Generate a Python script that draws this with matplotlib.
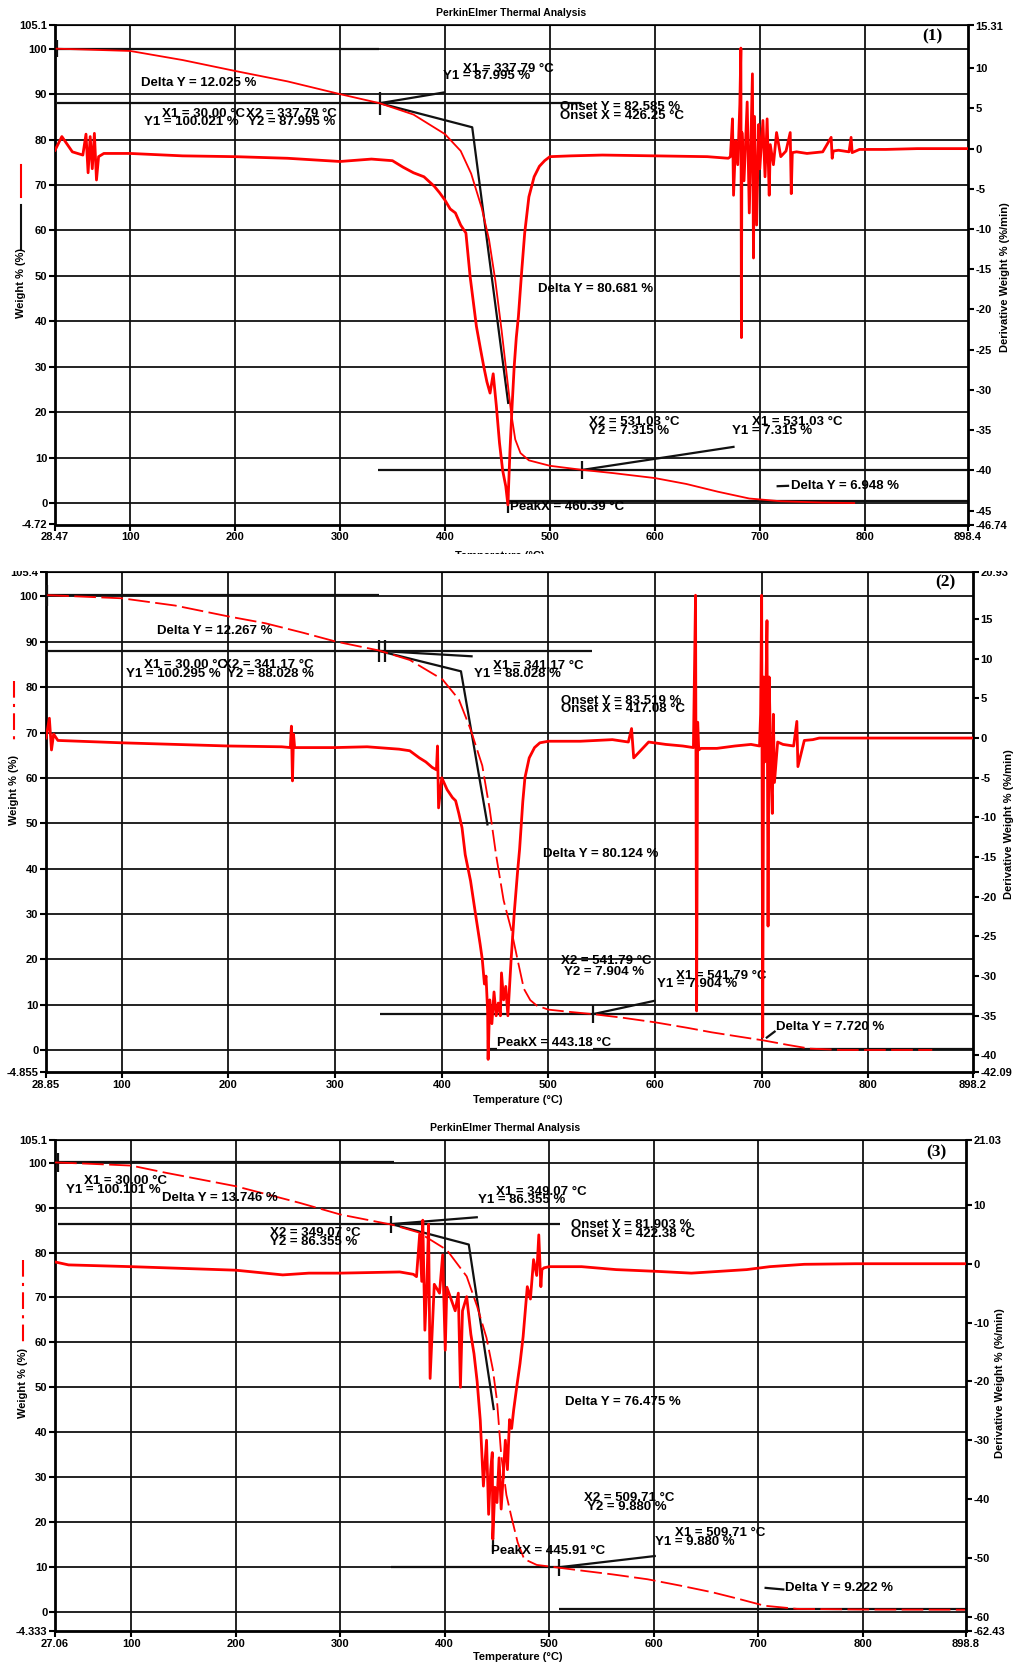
import matplotlib
matplotlib.use("Agg")
import matplotlib.pyplot as plt
from matplotlib.lines import Line2D
from matplotlib.patches import Rectangle

plt.rcParams["font.family"] = ["Liberation Sans", "DejaVu Sans"]
plt.rcParams["font.weight"] = "bold"

W_PX, H_PX = 1015, 1668
RED = "#ff0000"
INK = "#111111"

# ---------------- panel (1) ----------------
T_TGA1 = [30, 100, 150, 200, 250, 300, 337.8, 370, 400, 415, 425, 435, 442, 448, 454,
          459, 463, 467, 472, 480, 500, 531, 560, 600, 630, 660, 690, 720, 760, 790]
W_TGA1 = [100, 99.5, 97.5, 95.1, 92.8, 90, 88, 85.5, 81.2, 77.5, 72.5, 65, 58, 49, 38,
          28, 20, 14, 11, 9.4, 8.2, 7.3, 6.6, 5.5, 4.2, 2.5, 1.0, 0.4, 0.1, 0.0]
T_DTG1 = [28.5, 35, 45, 55, 58, 60, 62, 64, 66, 68, 70, 75, 100, 150, 200, 250, 300, 330,
          350, 360, 370, 380, 390, 395, 400, 405, 410, 415, 420, 424, 430, 434, 437, 440,
          443, 446, 449, 452, 455, 458, 460, 462, 464, 466, 468, 470, 473, 476, 480, 485,
          490, 495, 500, 520, 550, 600, 650, 670,
          672, 674, 675, 677, 679, 681, 682, 682.5, 683, 685, 688, 690, 693, 694, 695, 697,
          699, 700, 703, 705, 707, 709, 710, 713, 716, 720, 725, 729, 730, 731, 735, 745,
          760, 768, 769, 770, 775, 785, 787, 788, 795, 820, 850, 898]
D_DTG1 = [-0.2, 1.5, -0.4, -0.8, 1.8, -3.0, 1.5, -2.5, 1.9, -3.9, -1.0, -0.6, -0.6, -0.9,
          -1.0, -1.2, -1.6, -1.3, -1.5, -2.3, -3.0, -3.5, -4.7, -5.5, -6.4, -7.5, -8.0, -9.5,
          -10.5, -15.9, -22.1, -25, -27.1, -29, -30.4, -28, -32, -36.6, -40, -42, -44.3,
          -37.5, -32, -27.1, -23.5, -20.9, -15.5, -10.5, -6, -3.5, -2.2, -1.5, -1.0, -0.9,
          -0.8, -0.9, -1.0, -1.2,
          -1.0, 3.7, -5.8, 1.0, -2.0, 5.5, 12.5, -23.5, 2.0, -4.0, 5.8, -8.0, 9.3, -13.6,
          4.0, -9.5, 3.0, -2.5, 3.5, -3.5, 3.7, -5.8, 0.5, -2.0, 2.0, -1.0, -0.3, 2.0, -5.6,
          -0.5, -0.4, -0.6, -0.4, 1.4, -1.2, -0.3, -0.2, -0.4, 1.4, -0.5, -0.1, -0.1, 0, 0]

# ---------------- panel (2) ----------------
T_TGA2 = [30, 100, 150, 200, 234.5, 270, 300, 341, 370, 400.7, 416, 427, 438, 445, 451,
          458, 465, 471, 477, 483, 489, 500, 520, 542, 570, 600, 630, 653, 680, 702, 725,
          745, 775, 820, 860]
W_TGA2 = [100.3, 99.6, 98, 95.6, 94.1, 92, 90.1, 88.1, 86, 81.7, 77.3, 70.7, 62.7, 53,
          42.9, 33, 26.7, 20, 13.5, 11, 9.8, 8.9, 8.4, 7.9, 7.1, 6.1, 4.9, 3.9, 2.9, 2.1,
          1.1, 0.3, 0.0, 0.0, 0.0]
T_DTG2 = [28.9, 32, 34, 36, 40, 60, 100, 150, 200, 250, 258, 259, 260, 261, 262, 270, 300,
          330, 360, 370, 379, 385, 391, 395, 396, 397, 400, 405, 410, 413, 416, 419, 422,
          427, 432, 436, 438, 440, 441.5, 443, 443.5, 445, 447, 449, 451, 453, 455, 456,
          458, 460, 462, 465, 468, 471, 473, 476, 478, 482, 487, 492, 500, 530, 560, 575,
          578, 580, 594, 610, 626, 636, 638, 639, 640, 641, 643, 650, 658, 675, 690, 698,
          699, 700, 701, 702, 703, 705, 706, 707, 709, 710, 711, 712, 715, 720, 730, 733,
          734, 740, 748, 754, 800, 850, 898]
D_DTG2 = [0.0, 2.5, -1.5, 0.5, -0.3, -0.4, -0.6, -0.8, -1.0, -1.1, -1.2, 1.5, -5.4, 0.5,
          -1.2, -1.2, -1.2, -1.1, -1.4, -1.6, -2.5, -3.0, -3.7, -4.0, -1.0, -8.8, -5.0,
          -6.5, -7.5, -7.9, -9.5, -11.3, -14.7, -18, -22.5, -26, -27.9, -31, -30, -34.4,
          -40.5, -33, -36, -32, -35, -33.4, -35, -29.6, -33, -31.3, -35, -28, -22, -17,
          -14, -8, -5, -2.5, -1.2, -0.6, -0.4, -0.4, -0.2, -0.5, 1.2, -2.5, -0.5, -0.8,
          -1.0, -1.2, 18.0, -34.4, 2.0, -1.5, -1.3, -1.3, -1.3, -1.0, -0.8, -1.0, 3.0, 18.0,
          -37.7, 7.7, -3.0, 14.8, -23.7, 7.7, -5.6, -9.5, 3.0, -5.6, -0.5, -0.8, -1.0, 2.1,
          -3.6, -0.3, -0.2, 0, 0, 0, 0]

# ---------------- panel (3) ----------------
T_TGA3 = [27.1, 60, 100, 133, 200, 261, 300, 350, 375, 402, 421, 431, 440, 446, 450, 454,
          459, 463.6, 469.8, 476, 488, 508.3, 532, 560, 594, 625, 656, 680, 706, 737, 800,
          898]
W_TGA3 = [100.1, 99.8, 99.4, 97.8, 94.8, 91.1, 88.5, 86.2, 84.5, 80.6, 74.7, 68, 61, 54,
          47, 35, 26, 21.3, 15.4, 11.7, 10.4, 9.8, 9.1, 8.3, 7.2, 5.8, 4.3, 2.9, 1.3, 0.6,
          0.45, 0.4]
T_DTG3 = [27.1, 40, 60, 100, 150, 200, 245, 270, 300, 357, 370, 373, 376, 378, 379, 381,
          383, 384.5, 386, 390, 395, 398, 400.5, 402, 406, 410, 413, 415, 417, 421, 425, 428,
          431, 434, 437, 440, 442, 444, 445.5, 446, 448, 450, 452, 454, 456, 458, 460, 462,
          464, 466, 469, 472, 475, 479, 482, 485, 488, 490, 492, 493, 495, 500, 531, 564,
          603, 636, 689, 711, 744, 793, 898]
D_DTG3 = [0.3, -0.2, -0.3, -0.5, -0.8, -1.1, -1.9, -1.6, -1.6, -1.4, -1.8, -2.2, 5.0, -3,
          7.4, -11.3, -3, 6.7, -19.5, -3.5, -5, 1.5, -14.7, -4, -6, -8, -5, -21, -8, -5.6,
          -12, -15.3, -20, -26.6, -37.8, -30, -42.6, -35, -32.1, -46.8, -38, -40.6, -33,
          -41.7, -36, -30, -35, -26.5, -28, -24.8, -20.8, -17, -12.4, -3.9, -6, 0.7, -2,
          4.9, -3.9, -1, -0.7, -0.5, -0.5, -1.0, -1.3, -1.6, -1.0, -0.5, -0.1, 0, 0]

# axis extremes and right-hand tick values
XLIM = [(28.47, 898.4), (28.85, 898.2), (27.06, 898.8)]
YLIM = [(-4.72, 105.1), (-4.855, 105.4), (-4.333, 105.1)]
Y2LIM = [(-46.74, 15.31), (-42.09, 20.93), (-62.43, 21.03)]
Y2TICKS = [[10, 5, 0, -5, -10, -15, -20, -25, -30, -35, -40, -45],
           [15, 10, 5, 0, -5, -10, -15, -20, -25, -30, -35, -40],
           [10, 0, -10, -20, -30, -40, -50, -60]]


def lbl(v):
    return f"{v:g}"


fig = plt.figure(figsize=(W_PX / 100, H_PX / 100), dpi=100)


def fline(x, y0, y1, **kw):
    fig.add_artist(Line2D([x / W_PX, x / W_PX], [1 - y0 / H_PX, 1 - y1 / H_PX],
                          transform=fig.transFigure, **kw))


def ftext(x, y, s, **kw):
    fig.text(x / W_PX, 1 - y / H_PX, s, ha="center", va="center", **kw)


def panel(i, box, tga, tga_kw, dtg, marks, notes, tag, tag_xy):
    l, t, r, b = box
    ax = fig.add_axes([l / W_PX, 1 - b / H_PX, (r - l) / W_PX, (b - t) / H_PX])
    x0, x1 = XLIM[i]
    y0, y1 = YLIM[i]
    ax.set_xlim(x0, x1)
    ax.set_ylim(y0, y1)
    xt = [x0] + list(range(100, 900, 100)) + [x1]
    ax.set_xticks(xt)
    ax.set_xticklabels([lbl(v) for v in xt])
    yt = [y0] + list(range(0, 101, 10)) + [y1]
    ax.set_yticks(yt)
    ax.set_yticklabels([lbl(v) for v in yt])
    for v in range(100, 900, 100):
        ax.axvline(v, color=INK, lw=1.3, zorder=1)
    for h in range(0, 101, 10):
        ax.axhline(h, color=INK, lw=1.3, zorder=1)
    ax.tick_params(direction="out", length=4, width=1.5, labelsize=8, pad=1.5)
    for s in ("left", "bottom"):
        ax.spines[s].set_linewidth(2)
    ax.spines["top"].set_linewidth(1.2)

    # black analysis marks (tangents, level lines, cursors)
    for xs, ys in marks:
        ax.plot(xs, ys, color=INK, lw=1.6, zorder=4, solid_capstyle="butt")
    for s, x, y in notes:
        ax.text(x, y, s, fontsize=9.5, ha="left", va="center", zorder=6)
    ax.text(tag_xy[0], tag_xy[1], tag, family="Liberation Serif", fontsize=12.5,
            fontweight="bold", ha="center", va="center")
    ax.plot(tga[0], tga[1], color=RED, lw=1.3, zorder=5, **tga_kw)

    ax2 = ax.twinx()
    ax2.set_ylim(*Y2LIM[i])
    lo, hi = Y2LIM[i]
    rt = [hi] + Y2TICKS[i] + [lo]
    ax2.set_yticks(rt)
    ax2.set_yticklabels([lbl(v) for v in rt])
    ax2.tick_params(direction="out", length=4, width=1.5, labelsize=8, pad=1.5)
    ax2.spines["right"].set_linewidth(2)
    ax2.spines["left"].set_visible(False)
    ax2.plot(dtg[0], dtg[1], color=RED, lw=2.0, zorder=3)
    return ax


# ---- panel 1 ----
marks1 = [([30, 337], [100, 100]), ([30.5, 30.5], [98.2, 102]),
          ([30, 531], [88, 88]), ([337.8, 337.8], [85.5, 90.5]),
          ([337.8, 400], [88, 90.4]), ([337.8, 426, 460.4], [88, 82.7, 21.8]),
          ([336, 898.4], [7.3, 7.3]), ([531, 531], [5.3, 9.3]),
          ([531, 676], [7.3, 12.4]), ([460, 898.4], [0.37, 0.37]),
          ([460.4, 460.4], [2, -2.2]), ([716, 728], [3.7, 3.8])]
notes1 = [("Delta Y = 12.025 %", 110, 92.5),
          ("X1 = 30.00 °C", 130, 85.6), ("Y1 = 100.021 %", 113, 83.9),
          ("X2 = 337.79 °C", 210, 85.6), ("Y2 = 87.995 %", 212, 83.9),
          ("X1 = 337.79 °C", 417, 95.6), ("Y1 = 87.995 %", 398, 94.0),
          ("Onset Y = 82.585 %", 510, 87.2), ("Onset X = 426.25 °C", 510, 85.2),
          ("Delta Y = 80.681 %", 489, 47.0),
          ("X2 = 531.03 °C", 537, 17.8), ("Y2 = 7.315 %", 537, 15.9),
          ("X1 = 531.03 °C", 693, 17.9), ("Y1 = 7.315 %", 674, 15.9),
          ("PeakX = 460.39 °C", 462, -0.8), ("Delta Y = 6.948 %", 730, 3.85)]
panel(0, (55, 25.5, 968, 524.5), (T_TGA1, W_TGA1), {}, (T_DTG1, D_DTG1),
      marks1, notes1, "(1)", (864, 102.8))

# ---- panel 2 ----
marks2 = [([30, 341], [100.3, 100.3]), ([30, 30], [97.8, 102.5]),
          ([30, 541], [88.03, 88.03]), ([341.2, 341.2], [85.5, 90.5]),
          ([346.5, 346.5], [85.5, 90.5]), ([341, 429], [88, 86.8]),
          ([341, 418, 443], [88, 83.5, 49.5]),
          ([342, 898.2], [7.9, 7.9]), ([541.8, 541.8], [6, 9.9]),
          ([541.8, 600.6], [7.9, 10.9]), ([541.8, 898.2], [0.18, 0.18]),
          ([443.2, 443.2], [-2, 2.2]), ([443.2, 452], [0.3, 0.3]),
          ([704, 713], [2.6, 4.2])]
notes2 = [("Delta Y = 12.267 %", 133, 92.5),
          ("X1 = 30.00 °C", 121, 84.8), ("X2 = 341.17 °C", 195, 84.8),
          ("Y1 = 100.295 %", 104, 83.0), ("Y2 = 88.028 %", 199, 83.0),
          ("X1 = 341.17 °C", 448, 84.6), ("Y1 = 88.028 %", 430, 82.8),
          ("Onset Y = 83.519 %", 512, 76.9), ("Onset X = 417.08 °C", 512, 75.1),
          ("Delta Y = 80.124 %", 495, 43.2),
          ("X2 = 541.79 °C", 512, 19.7), ("Y2 = 7.904 %", 515, 17.2),
          ("X1 = 541.79 °C", 620, 16.4), ("Y1 = 7.904 %", 602, 14.6),
          ("PeakX = 443.18 °C", 452, 1.5), ("Delta Y = 7.720 %", 713, 5.0)]
panel(1, (46, 572, 973, 1072), (T_TGA2, W_TGA2), {"dashes": (12, 3)},
      (T_DTG2, D_DTG2), marks2, notes2, "(2)", (872, 103))

# ---- panel 3 ----
marks3 = [([28.5, 351], [100.1, 100.1]), ([30, 30], [97.9, 102.2]),
          ([30, 510], [86.35, 86.35]), ([349, 349], [84.4, 88.2]),
          ([349, 431.7], [86.35, 87.9]), ([349, 423, 447], [86.35, 81.8, 44.9]),
          ([348.6, 898.8], [9.88, 9.88]), ([509.7, 509.7], [8, 11.7]),
          ([509.7, 602], [9.88, 12.4]), ([509.7, 898.8], [0.66, 0.66]),
          ([445.9, 445.9], [13.2, 16.5]), ([706, 725], [5.3, 4.9])]
notes3 = [("X1 = 30.00 °C", 55, 95.9), ("Y1 = 100.101 %", 38, 94.0),
          ("Delta Y = 13.746 %", 129, 92.2),
          ("X2 = 349.07 °C", 233, 84.4), ("Y2 = 86.355 %", 233, 82.3),
          ("X1 = 349.07 °C", 449, 93.6), ("Y1 = 86.355 %", 432, 91.7),
          ("Onset Y = 81.903 %", 521, 86.2), ("Onset X = 422.38 °C", 521, 84.2),
          ("Delta Y = 76.475 %", 515, 46.7),
          ("X2 = 509.71 °C", 533, 25.4), ("Y2 = 9.880 %", 536, 23.4),
          ("X1 = 509.71 °C", 620, 17.6), ("Y1 = 9.880 %", 601, 15.5),
          ("PeakX = 445.91 °C", 444, 13.5), ("Delta Y = 9.222 %", 726, 5.2)]
panel(2, (55, 1140, 966, 1631), (T_TGA3, W_TGA3), {"dashes": (12, 3)},
      (T_DTG3, D_DTG3), marks3, notes3, "(3)", (870, 102.4))

# titles, axis labels and the little legend strokes beside "Weight %"
ftext(511, 13, "PerkinElmer Thermal Analysis", fontsize=7.5)
ftext(505, 1128, "PerkinElmer Thermal Analysis", fontsize=7.5)
for x, y in [(500, 556), (518, 1100), (518, 1657)]:
    ftext(x, y, "Temperature (°C)", fontsize=8)
for x, y in [(21, 283), (14, 790), (23, 1383)]:
    ftext(x, y, "Weight % (%)", fontsize=8, rotation=90)
for x, y in [(1005, 277), (1009, 824), (1000, 1383)]:
    ftext(x, y, "Derivative Weight % (%/min)", fontsize=8, rotation=90)
fline(21, 165, 197, color=RED, lw=1.5)
fline(21, 205, 250, color=INK, lw=1.5)
fline(14, 681, 745, color=RED, lw=1.5, dashes=(8, 3, 1.5, 3))
fline(23, 1260, 1346, color=RED, lw=1.5, dashes=(8, 3, 1.5, 3))

# panel (2) is cropped at its top in the source image
fig.add_artist(Rectangle((0, 1 - 570.5 / H_PX), 1, 16 / H_PX, transform=fig.transFigure,
                         facecolor="white", edgecolor="none", zorder=10))

fig.savefig("out.png", dpi=100)
